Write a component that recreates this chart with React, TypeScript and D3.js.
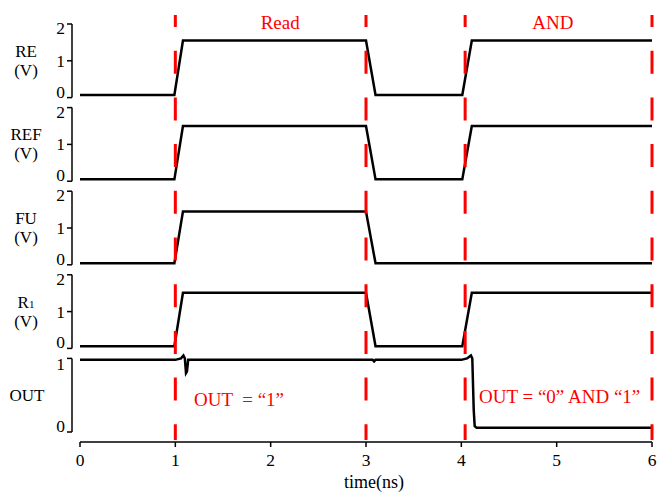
import React from "react"
import * as d3 from "d3"

const WIDTH = 664
const HEIGHT = 499
const FONT = "'Liberation Serif', 'Times New Roman', serif"

const timeTicks = [0, 1, 2, 3, 4, 5, 6]
const phaseMarks = [1, 3, 4.04, 6]
const phaseNames = ["Read", "AND"]
const phaseNameTimes = [2.1, 4.96]

const panelLabels = ["RE", "REF", "FU", "R1", "OUT"]
const panelMax = [2, 2, 2, 2, 1]

// waveforms: time (ns) and voltage (V)
const reTime = [0, 0.99, 1.08, 3.0, 3.1, 4.01, 4.11, 6]
const reVolt = [0.07, 0.07, 1.55, 1.55, 0.07, 0.07, 1.55, 1.55]

const refTime = [0, 0.99, 1.08, 3.0, 3.1, 4.01, 4.11, 6]
const refVolt = [0.05, 0.05, 1.5, 1.5, 0.05, 0.05, 1.5, 1.5]

const fuTime = [0, 0.99, 1.08, 3.0, 3.1, 6]
const fuVolt = [0.04, 0.04, 1.45, 1.45, 0.04, 0.04]

const r1Time = [0, 0.99, 1.08, 3.0, 3.1, 4.01, 4.11, 6]
const r1Volt = [0.06, 0.06, 1.51, 1.51, 0.06, 0.06, 1.51, 1.51]

const outTime = [
    0, 1.0, 1.06, 1.085, 1.1, 1.112, 1.122, 1.135, 3.07, 3.085, 3.1, 4.0, 4.06,
    4.1, 4.115, 4.13, 4.14, 4.16, 6,
]
const outVolt = [
    0.98, 0.98, 1.0, 1.04, 1.0, 0.8, 0.82, 0.98, 0.98, 0.96, 0.98, 0.98, 1.0,
    1.04, 1.0, 0.3, 0.08, 0.058, 0.058,
]

const signals = [
    { time: reTime, volt: reVolt },
    { time: refTime, volt: refVolt },
    { time: fuTime, volt: fuVolt },
    { time: r1Time, volt: r1Volt },
    { time: outTime, volt: outVolt },
]

const PANEL_TOP = 24
const PANEL_STEP = 83.6
const PANEL_H = 73.6
const AXIS_X = 72
const X_AXIS_Y = 442

export default function App() {
    const x = d3.scaleLinear().domain([0, 6]).range([80, 652])

    const panels = panelLabels.map((label, i) => {
        const top = PANEL_TOP + PANEL_STEP * i
        const y = d3
            .scaleLinear()
            .domain([0, panelMax[i]])
            .range([top + PANEL_H, top])
        const sig = signals[i]
        const pts: [number, number][] = sig.time.map((t, k) => [t, sig.volt[k]])
        const line = d3
            .line<[number, number]>()
            .x((d) => x(d[0]))
            .y((d) => y(d[1]))
        const ticks = d3.range(0, panelMax[i] + 1)
        const c = top + PANEL_H / 2
        return (
            <g key={label}>
                <line
                    x1={AXIS_X}
                    x2={AXIS_X}
                    y1={y(0)}
                    y2={y(panelMax[i])}
                    stroke="#000"
                    strokeWidth={1.5}
                />
                {ticks.map((v, k) => {
                    let dy = 6
                    if (k === 0) dy = 0
                    else if (k === ticks.length - 1) dy = i === 4 ? 12 : 10
                    return (
                        <g key={v}>
                            <line
                                x1={AXIS_X - 5}
                                x2={AXIS_X}
                                y1={y(v)}
                                y2={y(v)}
                                stroke="#000"
                                strokeWidth={1.5}
                            />
                            <text
                                x={AXIS_X - 7}
                                y={y(v) + dy}
                                textAnchor="end"
                                fontSize={17.5}
                            >
                                {v}
                            </text>
                        </g>
                    )
                })}
                {label === "OUT" ? (
                    <text x={27} y={c + 6} textAnchor="middle" fontSize={17}>
                        OUT
                    </text>
                ) : (
                    <>
                        <text
                            x={26}
                            y={c - 4}
                            textAnchor="middle"
                            fontSize={17}
                        >
                            {label === "R1" ? (
                                <>
                                    R<tspan fontSize={11}>1</tspan>
                                </>
                            ) : (
                                label
                            )}
                        </text>
                        <text
                            x={26}
                            y={c + 15}
                            textAnchor="middle"
                            fontSize={17}
                        >
                            (V)
                        </text>
                    </>
                )}
                <path
                    d={line(pts) || ""}
                    fill="none"
                    stroke="#000"
                    strokeWidth={2.5}
                />
            </g>
        )
    })

    return (
        <svg
            width={WIDTH}
            height={HEIGHT}
            style={{ position: "absolute", left: 0, top: 0, background: "#fff" }}
            fontFamily={FONT}
        >
            <rect width={WIDTH} height={HEIGHT} fill="#fff" />
            {panels}
            <g>
                <line
                    x1={x(0)}
                    x2={x(6)}
                    y1={X_AXIS_Y}
                    y2={X_AXIS_Y}
                    stroke="#000"
                    strokeWidth={1.5}
                />
                {timeTicks.map((t) => (
                    <g key={t}>
                        <line
                            x1={x(t)}
                            x2={x(t)}
                            y1={X_AXIS_Y}
                            y2={X_AXIS_Y + 5}
                            stroke="#000"
                            strokeWidth={1.5}
                        />
                        <text
                            x={x(t)}
                            y={X_AXIS_Y + 24}
                            textAnchor="middle"
                            fontSize={17.5}
                        >
                            {t}
                        </text>
                    </g>
                ))}
                <text x={374} y={488} textAnchor="middle" fontSize={18}>
                    time(ns)
                </text>
            </g>
            {phaseMarks.map((t) => (
                <line
                    key={t}
                    x1={x(t)}
                    x2={x(t)}
                    y1={15}
                    y2={440}
                    stroke="#ff0000"
                    strokeWidth={3}
                    strokeDasharray="23 23.7"
                    strokeDashoffset={11}
                />
            ))}
            {phaseNames.map((n, i) => (
                <text
                    key={n}
                    x={x(phaseNameTimes[i])}
                    y={29}
                    textAnchor="middle"
                    fontSize={19}
                    fill="#ff0000"
                >
                    {n}
                </text>
            ))}
            <text x={194} y={406} fontSize={19} fill="#ff0000" xmlSpace="preserve">
                OUT  = “1”
            </text>
            <text x={479} y={403} fontSize={19} fill="#ff0000">
                OUT = “0” AND “1”
            </text>
        </svg>
    )
}
